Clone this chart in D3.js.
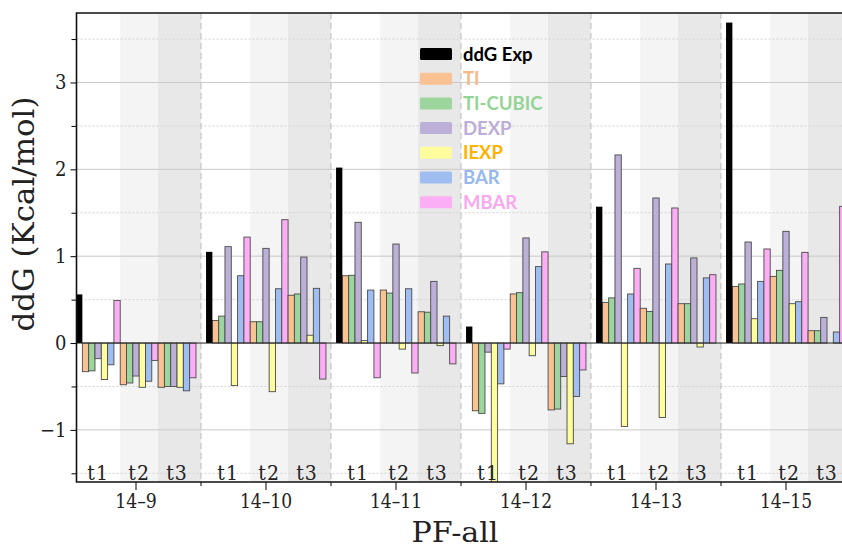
<!DOCTYPE html>
<html>
<head>
<meta charset="utf-8">
<script src="https://cdn.jsdelivr.net/npm/d3@7"></script>
<style>
  html, body { margin: 0; padding: 0; background: #fff; }
</style>
</head>
<body>
<div id="chart"></div>
<script>
// ---- data ----
const groups = ["14-9", "14-10", "14-11", "14-12", "14-13", "14-15"];
const trials = ["t1", "t2", "t3"];
const methods = ["TI", "TI-CUBIC", "DEXP", "IEXP", "BAR", "MBAR"];
const ddgExp = [0.56, 1.05, 2.02, 0.19, 1.57, 3.69];

// values per method: [group][trial]
const tiVals = [[-0.33, -0.48, -0.51], [0.26, 0.245, 0.55], [0.775, 0.61, 0.36], [-0.78, 0.565, -0.77], [0.468, 0.40, 0.453], [0.652, 0.767, 0.142]];
const tiCubicVals = [[-0.32, -0.46, -0.50], [0.31, 0.245, 0.565], [0.78, 0.575, 0.355], [-0.81, 0.58, -0.76], [0.52, 0.364, 0.453], [0.68, 0.837, 0.142]];
const dexpVals = [[-0.18, -0.38, -0.50], [1.11, 1.09, 0.99], [1.39, 1.14, 0.71], [-0.105, 1.21, -0.385], [2.166, 1.67, 0.98], [1.163, 1.286, 0.295]];
const iexpVals = [[-0.42, -0.51, -0.51], [-0.49, -0.56, 0.09], [0.03, -0.07, -0.03], [-1.62, -0.146, -1.16], [-0.96, -0.857, -0.046], [0.28, 0.453, 0.0]];
const barVals = [[-0.25, -0.44, -0.55], [0.775, 0.625, 0.63], [0.61, 0.625, 0.31], [-0.47, 0.88, -0.615], [0.565, 0.91, 0.75], [0.71, 0.476, 0.127]];
const mbarVals = [[0.49, -0.20, -0.40], [1.22, 1.42, -0.415], [-0.40, -0.345, -0.24], [-0.07, 1.05, -0.31], [0.86, 1.555, 0.787], [1.083, 1.044, 1.574]];

const majorTicks = [-1, 0, 1, 2, 3];
const minorTicks = [-1.5, -0.5, 0.5, 1.5, 2.5, 3.5];

// ---- styles ----
const barFill = ["#fac192", "#9cd69c", "#bdb0d8", "#fdfd9d", "#9fbdf0", "#fbaef4"];
const legendText = ["#f7b98a", "#95d497", "#bcaed9", "#ffb300", "#96b8ee", "#f9a8f0"];
const shadeFill = ["#ffffff", "#f4f4f4", "#e8e8e8"];
const serif = "'DejaVu Serif Condensed', 'DejaVu Serif', serif";

const width = 842;
const height = 551;
const plot = { left: 76.5, top: 13, right: 851, bottom: 482 };

const svg = d3.select("#chart")
    .append("svg")
    .attr("width", width)
    .attr("height", height);

const x = d3.scaleBand()
    .domain(groups)
    .range([71, 851]);

// 19 slots per group: exp bar + 6 methods x 3 trials
const slot = d3.scaleBand()
    .domain(d3.range(19))
    .range([0, x.bandwidth()])
    .paddingOuter(0.8)
    .paddingInner(0);

const y = d3.scaleLinear()
    .domain([-1.6, 3.8])
    .range([plot.bottom, plot.top]);

svg.append("clipPath")
    .attr("id", "plot-clip")
    .append("rect")
    .attr("x", plot.left)
    .attr("y", plot.top)
    .attr("width", plot.right - plot.left)
    .attr("height", plot.bottom - plot.top);

const g = svg.append("g").attr("clip-path", "url(#plot-clip)");

// trial shading
const shadeData = [];
groups.forEach(grp => {
    trials.forEach((t, ti) => {
        const x0 = ti === 0 ? x(grp) : x(grp) + slot(1 + ti * 6);
        const x1 = ti === 2 ? x(grp) + x.bandwidth() : x(grp) + slot(1 + (ti + 1) * 6);
        shadeData.push({ x0, x1, ti });
    });
});
g.selectAll(".shade")
    .data(shadeData)
    .enter()
    .append("rect")
    .attr("x", d => d.x0)
    .attr("y", plot.top)
    .attr("width", d => d.x1 - d.x0)
    .attr("height", plot.bottom - plot.top)
    .attr("fill", d => shadeFill[d.ti]);

// horizontal grid
g.selectAll(".grid-major")
    .data(majorTicks.filter(v => v !== 0))
    .enter()
    .append("line")
    .attr("x1", plot.left)
    .attr("x2", plot.right)
    .attr("y1", d => y(d))
    .attr("y2", d => y(d))
    .attr("stroke", "#c9c9c9")
    .attr("stroke-width", 1);

g.selectAll(".grid-minor")
    .data(minorTicks)
    .enter()
    .append("line")
    .attr("x1", plot.left)
    .attr("x2", plot.right)
    .attr("y1", d => y(d))
    .attr("y2", d => y(d))
    .attr("stroke", "#d2d2d2")
    .attr("stroke-width", 1)
    .attr("stroke-dasharray", "2,2");

// group separators
g.selectAll(".sep")
    .data(groups.slice(1))
    .enter()
    .append("line")
    .attr("x1", d => x(d))
    .attr("x2", d => x(d))
    .attr("y1", plot.top)
    .attr("y2", plot.bottom)
    .attr("stroke", "#bdbdbd")
    .attr("stroke-width", 1)
    .attr("stroke-dasharray", "6,4");

// method bars
const seriesVals = [tiVals, tiCubicVals, dexpVals, iexpVals, barVals, mbarVals];
const bars = [];
groups.forEach((grp, gi) => {
    trials.forEach((t, ti) => {
        methods.forEach((m, mi) => {
            bars.push({ grp, mi, idx: 1 + ti * 6 + mi, v: seriesVals[mi][gi][ti] });
        });
    });
});

g.selectAll(".bar")
    .data(bars)
    .enter()
    .append("rect")
    .attr("class", "bar")
    .attr("x", d => x(d.grp) + slot(d.idx))
    .attr("width", slot.bandwidth())
    .attr("y", d => y(Math.max(0, d.v)))
    .attr("height", d => Math.abs(y(d.v) - y(0)))
    .attr("fill", d => barFill[d.mi])
    .attr("stroke", "#4a4a4a")
    .attr("stroke-width", 0.9);

// experimental bars
g.selectAll(".exp")
    .data(groups)
    .enter()
    .append("rect")
    .attr("x", d => x(d) + slot(0))
    .attr("width", slot.bandwidth())
    .attr("y", (d, i) => y(Math.max(0, ddgExp[i])))
    .attr("height", (d, i) => Math.abs(y(ddgExp[i]) - y(0)))
    .attr("fill", "#000");

// zero line
g.append("line")
    .attr("x1", plot.left)
    .attr("x2", plot.right)
    .attr("y1", y(0))
    .attr("y2", y(0))
    .attr("stroke", "#222")
    .attr("stroke-width", 1);

// trial labels
const trialLabels = [];
groups.forEach(grp => {
    trials.forEach((t, ti) => {
        const a = x(grp) + slot(ti === 0 ? 0 : 1 + ti * 6);
        const b = x(grp) + slot(1 + (ti + 1) * 6 - 1) + slot.bandwidth();
        trialLabels.push({ t, cx: (a + b) / 2 });
    });
});
svg.selectAll(".trial-label")
    .data(trialLabels)
    .enter()
    .append("text")
    .attr("x", d => d.cx)
    .attr("y", plot.bottom - 2)
    .attr("text-anchor", "middle")
    .style("font-family", serif)
    .style("font-size", "21px")
    .attr("letter-spacing", 1)
    .attr("fill", "#222")
    .text(d => d.t);

// y axis
const yAxis = svg.append("g")
    .attr("transform", `translate(${plot.left},0)`)
    .call(d3.axisLeft(y).tickValues(majorTicks).tickSize(6).tickPadding(4).tickFormat(d3.format("d")));
yAxis.select(".domain").remove();
yAxis.selectAll("text")
    .style("font-family", serif)
    .style("font-size", "20px")
    .attr("fill", "#222")
    .text(d => d < 0 ? "\u2212" + Math.abs(d) : d);

svg.append("g")
    .attr("transform", `translate(${plot.left},0)`)
    .call(d3.axisLeft(y).tickValues(minorTicks).tickSize(5).tickFormat(""))
    .select(".domain").remove();

// x axis
const xAxis = svg.append("g")
    .attr("transform", `translate(0,${plot.bottom})`)
    .call(d3.axisBottom(x).tickSize(8).tickPadding(4));
xAxis.select(".domain").remove();
xAxis.selectAll("text")
    .style("font-family", serif)
    .style("font-size", "20px")
    .attr("fill", "#222")
    .attr("textLength", d => d.length * 10.4)
    .attr("lengthAdjust", "spacingAndGlyphs")
    .text(d => d.replace("-", "\u2013"));

svg.selectAll(".sep-tick")
    .data(groups.slice(1))
    .enter()
    .append("line")
    .attr("x1", d => x(d))
    .attr("x2", d => x(d))
    .attr("y1", plot.bottom)
    .attr("y2", plot.bottom + 4)
    .attr("stroke", "#000");

// frame
svg.append("path")
    .attr("d", `M${plot.right},${plot.top}H${plot.left}V${plot.bottom}H${plot.right}`)
    .attr("fill", "none")
    .attr("stroke", "#111")
    .attr("stroke-width", 1.6);

// axis titles
svg.append("text")
    .attr("transform", "translate(34,214) rotate(-90)")
    .attr("text-anchor", "middle")
    .style("font-family", serif)
    .style("font-size", "29px")
    .attr("fill", "#222")
    .attr("textLength", 235)
    .attr("lengthAdjust", "spacingAndGlyphs")
    .text("ddG (Kcal/mol)");

svg.append("text")
    .attr("x", 455)
    .attr("y", 542)
    .attr("text-anchor", "middle")
    .style("font-family", serif)
    .style("font-size", "28px")
    .attr("fill", "#222")
    .attr("textLength", 87)
    .attr("lengthAdjust", "spacingAndGlyphs")
    .text("PF-all");

// legend
const legendItems = [{ name: "ddG Exp", fill: "#000", text: "#000" }]
    .concat(methods.map((m, i) => ({ name: m, fill: barFill[i], text: legendText[i] })));

const legend = svg.append("g")
    .attr("transform", "translate(420,54)");

const item = legend.selectAll(".legend-item")
    .data(legendItems)
    .enter()
    .append("g")
    .attr("transform", (d, i) => `translate(0,${i * 24.7})`);

item.append("rect")
    .attr("x", 0)
    .attr("y", -6)
    .attr("width", 32)
    .attr("height", 12)
    .attr("rx", 1.5)
    .attr("fill", d => d.fill);

item.append("text")
    .attr("x", 43)
    .attr("y", 0)
    .attr("dy", "0.36em")
    .style("font-family", "Lato, 'Open Sans', sans-serif")
    .style("font-weight", "bold")
    .style("font-size", "18.5px")
    .attr("fill", d => d.text)
    .text(d => d.name);
</script>
</body>
</html>
